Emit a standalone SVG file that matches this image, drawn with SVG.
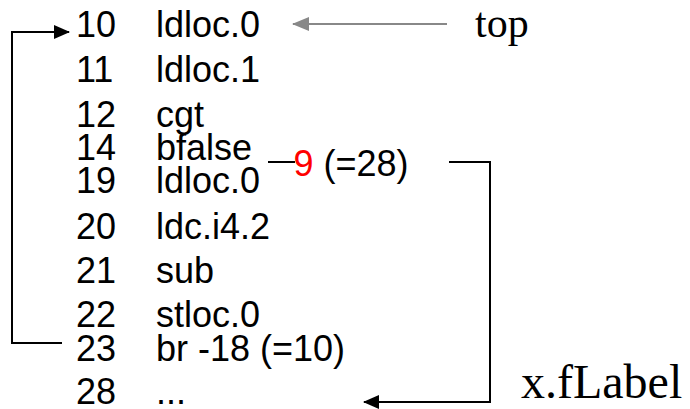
<svg xmlns="http://www.w3.org/2000/svg" width="690" height="409" viewBox="0 0 690 409">
  <style>
    .code { font-family: "Liberation Sans", Arial, sans-serif; font-size: 36px; fill: #000; }
    .note { font-family: "Liberation Serif", "Times New Roman", serif; fill: #000; }
    .wire { fill: none; stroke: #000; stroke-width: 2; }
    .wire-grey { fill: none; stroke: #888; stroke-width: 2; }
  </style>
  <defs>
    <marker id="head" markerWidth="16" markerHeight="14" refX="15" refY="7" orient="auto" markerUnits="userSpaceOnUse">
      <path d="M0,0 L16,7 L0,14 Z" fill="#000"/>
    </marker>
    <marker id="head-grey" markerWidth="17" markerHeight="14" refX="16" refY="7" orient="auto" markerUnits="userSpaceOnUse">
      <path d="M0,0 L17,7 L0,14 Z" fill="#888"/>
    </marker>
  </defs>

  <!-- IL listing: offset + instruction -->
  <g id="il-10"><text class="code" x="76" y="37">10</text><text class="code" x="156" y="37">ldloc.0</text></g>
  <g id="il-11"><text class="code" x="76" y="82">11</text><text class="code" x="156" y="82">ldloc.1</text></g>
  <g id="il-12"><text class="code" x="76" y="127">12</text><text class="code" x="156" y="127">cgt</text></g>
  <g id="il-14"><text class="code" x="76" y="160">14</text><text class="code" x="156" y="160">bfalse</text></g>
  <g id="il-19"><text class="code" x="76" y="193">19</text><text class="code" x="156" y="193">ldloc.0</text></g>
  <g id="il-20"><text class="code" x="76" y="239">20</text><text class="code" x="156" y="239">ldc.i4.2</text></g>
  <g id="il-21"><text class="code" x="76" y="283">21</text><text class="code" x="156" y="283">sub</text></g>
  <g id="il-22"><text class="code" x="76" y="327">22</text><text class="code" x="156" y="327">stloc.0</text></g>
  <g id="il-23"><text class="code" x="76" y="361">23</text><text class="code" x="156" y="361">br -18 (=10)</text></g>
  <g id="il-28"><text class="code" x="76" y="404">28</text><text class="code" x="156" y="404">...</text></g>

  <!-- branch operand of bfalse -->
  <g id="bfalse-target"><text class="code" x="293.5" y="176"><tspan fill="#ff0000">9</tspan> (=28)</text></g>

  <!-- side labels -->
  <g id="label-top"><text class="note" x="475" y="37" font-size="42">top</text></g>
  <g id="label-flabel"><text class="note" x="521" y="398" font-size="48">x.fLabel</text></g>

  <!-- connectors -->
  <g id="connectors">
    <!-- br -18 jumps back to 10 -->
    <polyline class="wire" points="62,343 12,343 12,32 69,32" marker-end="url(#head)"/>
    <!-- bfalse operand tick -->
    <line class="wire" x1="268" y1="162" x2="295" y2="162"/>
    <!-- bfalse jumps forward to 28 -->
    <polyline class="wire" points="449,162 490,162 490,402 364,402" marker-end="url(#head)"/>
    <!-- top pointer -->
    <line class="wire-grey" x1="447" y1="24" x2="293" y2="24" marker-end="url(#head-grey)"/>
  </g>
</svg>
